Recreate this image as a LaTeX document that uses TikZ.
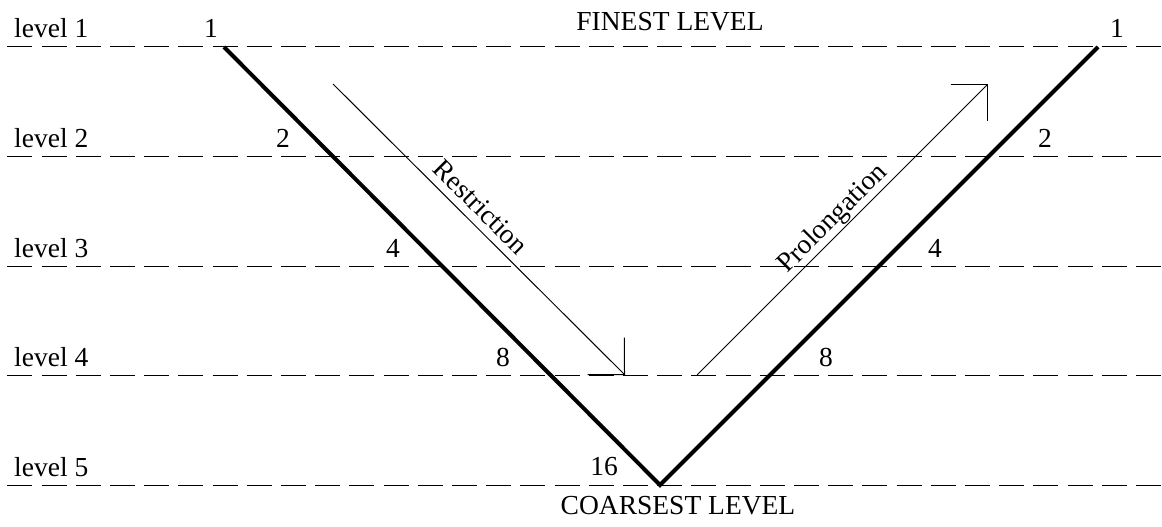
\documentclass[tikz,border=0pt]{standalone}
\usepackage{fontspec}
\setmainfont{Liberation Serif}
\usetikzlibrary{arrows.meta}
\begin{document}
\begin{tikzpicture}[x=1pt,y=-1pt,
  levelline/.style={line width=1pt, dash pattern=on 25pt off 9.2pt},
  vline/.style={line width=4pt, line join=miter},
  flow/.style={line width=1pt, -{Straight Barb[length=26pt,width=52pt,line width=1pt]}},
  lbl/.style={font=\fontsize{27.5}{32}\selectfont, inner sep=0pt}]
\useasboundingbox (0,0) rectangle (1162,527);
% level lines
\foreach \i/\y in {1/47,2/156.5,3/266,4/375.5,5/485}{
  \coordinate (L\i a) at (7.3,\y);
  \coordinate (L\i b) at (1162,\y);
  \draw[levelline] (L\i a) -- (L\i b);
  \node[lbl, anchor=base west] (lev\i) at (14,\y-9) {level \i};
}
% V
\coordinate (topL) at (224,47);
\coordinate (bot) at (660,485);
\coordinate (topR) at (1098,47);
\draw[vline] (topL) -- (bot) -- (topR);
% numbers
\node[lbl, anchor=base] (nl1) at (211,38) {1};
\node[lbl, anchor=base] (nl2) at (283,147.5) {2};
\node[lbl, anchor=base] (nl3) at (393,257) {4};
\node[lbl, anchor=base] (nl4) at (503,366.5) {8};
\node[lbl, anchor=base] (nl5) at (604,475) {16};
\node[lbl, anchor=base] (nr1) at (1117,38) {1};
\node[lbl, anchor=base] (nr2) at (1045,147.5) {2};
\node[lbl, anchor=base] (nr3) at (935,257) {4};
\node[lbl, anchor=base] (nr4) at (826,366.5) {8};
% titles
\node[lbl, anchor=base] (fine) at (670,31) {FINEST LEVEL};
\node[lbl, anchor=base] (coarse) at (678,514) {COARSEST LEVEL};
% arrows
\coordinate (rs) at (333,84);
\coordinate (re) at (625,375);
\coordinate (ps) at (697,375);
\coordinate (pe) at (988,84);
\draw[flow] (rs) -- (re);
\draw[flow] (ps) -- (pe);
\node[lbl, rotate=-45] (restr) at (481,207) {Restriction};
\node[lbl, rotate=45] (prol) at (833,219) {Prolongation};
\end{tikzpicture}
\end{document}
